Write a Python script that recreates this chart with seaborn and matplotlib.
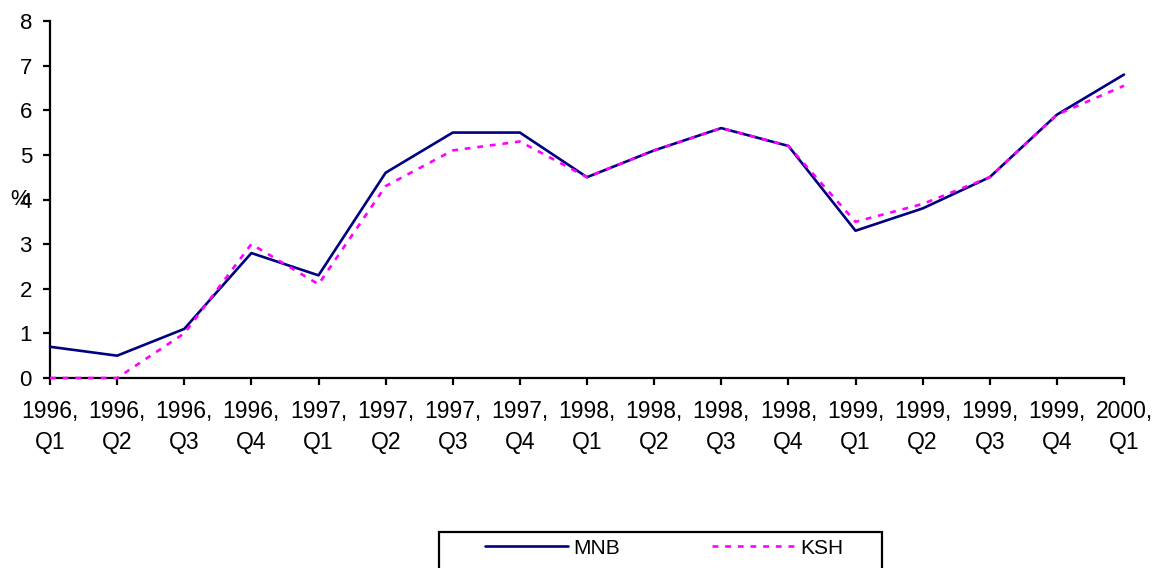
import pandas as pd
import seaborn as sns
import matplotlib.pyplot as plt
from matplotlib.patches import Rectangle

# adatok (negyedéves, %)
quarters = ['1996,\nQ1', '1996,\nQ2', '1996,\nQ3', '1996,\nQ4',
            '1997,\nQ1', '1997,\nQ2', '1997,\nQ3', '1997,\nQ4',
            '1998,\nQ1', '1998,\nQ2', '1998,\nQ3', '1998,\nQ4',
            '1999,\nQ1', '1999,\nQ2', '1999,\nQ3', '1999,\nQ4',
            '2000,\nQ1']
mnb = [0.7, 0.5, 1.1, 2.8, 2.3, 4.6, 5.5, 5.5, 4.5, 5.1, 5.6, 5.2, 3.3, 3.8, 4.5, 5.9, 6.8]
ksh = [0.0, 0.0, 1.0, 3.0, 2.1, 4.3, 5.1, 5.3, 4.5, 5.1, 5.6, 5.2, 3.5, 3.9, 4.5, 5.9, 6.55]
y_ticks = [0, 1, 2, 3, 4, 5, 6, 7, 8]

df = pd.DataFrame({
    'pos': list(range(len(quarters))) * 2,
    'value': mnb + ksh,
    'series': ['MNB'] * len(mnb) + ['KSH'] * len(ksh),
})

sns.set_style('ticks')
plt.rcParams['font.family'] = ['Liberation Sans', 'DejaVu Sans']
plt.rcParams['text.color'] = 'black'
plt.rcParams['axes.labelcolor'] = 'black'
plt.rcParams['xtick.color'] = 'black'
plt.rcParams['ytick.color'] = 'black'

fig = plt.figure(figsize=(11.54, 5.68), dpi=100)
ax = fig.add_axes([50 / 1154, 1 - 378 / 568, 1074 / 1154, 357 / 568])

sns.lineplot(data=df, x='pos', y='value', hue='series', style='series',
             palette={'MNB': '#000080', 'KSH': '#FF00FF'},
             dashes={'MNB': '', 'KSH': (2.2, 2.6)},
             linewidth=1.9, ax=ax, sort=False)

# a KSH vonal a tengelyen is látsszon
for ln in ax.lines:
    ln.set_clip_on(False)
    ln.set_zorder(5)

handles, labels = ax.get_legend_handles_labels()
ax.get_legend().remove()

ax.set_xlim(0, len(quarters) - 1)
ax.set_ylim(0, 8)
ax.set_xticks(range(len(quarters)))
ax.set_xticklabels(quarters, fontsize=16.5, linespacing=1.45, color='black')
ax.set_yticks(y_ticks)
ax.set_yticklabels([str(v) for v in y_ticks], fontsize=16, color='black')
ax.set_xlabel('')
ax.set_ylabel('%', rotation=0, fontsize=16, ha='center', va='center', color='black')
ax.yaxis.set_label_coords(-0.028, 0.5)

for side in ['top', 'right']:
    ax.spines[side].set_visible(False)
for side in ['left', 'bottom']:
    ax.spines[side].set_linewidth(1.6)
    ax.spines[side].set_color('black')
ax.tick_params(axis='both', direction='out', length=5, width=1.6, color='black')
ax.tick_params(axis='y', pad=8)
ax.tick_params(axis='x', pad=11)

# jelmagyarázat
leg = fig.legend(handles, labels, loc='center left', bbox_to_anchor=(485 / 1154, 1 - 548 / 568),
                 ncol=2, frameon=False, handlelength=4.0, handletextpad=0.25,
                 columnspacing=4.4, borderpad=0, borderaxespad=0, fontsize=15)
for t in leg.get_texts():
    t.set_color('black')
fig.add_artist(Rectangle((439 / 1154, -0.05), 443 / 1154, (568 - 532) / 568 + 0.05,
                         transform=fig.transFigure, fill=False, edgecolor='black',
                         linewidth=1.6, clip_on=False))

fig.savefig('out.png', dpi=100)
